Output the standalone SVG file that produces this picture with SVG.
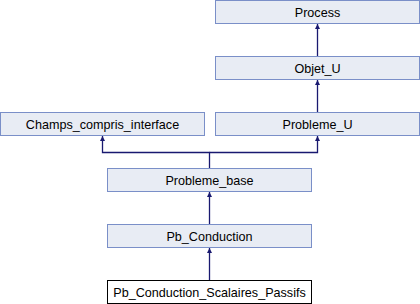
<svg xmlns="http://www.w3.org/2000/svg" width="420" height="304" viewBox="0 0 420 304">
  <style>
    .box rect { fill: #e8ecf4; stroke: #7a8fc8; stroke-width: 1; }
    .box.leaf rect { fill: #ffffff; stroke: #000000; }
    text { font-family: "Liberation Sans", Arial, sans-serif; font-size: 12.6px; fill: #000000; text-anchor: middle; }
    .edge { fill: none; stroke: #191970; stroke-width: 1.3; }
  </style>
  <defs>
    <marker id="arrow" viewBox="0 0 10 10" refX="10" refY="5" markerWidth="5" markerHeight="6" orient="auto" markerUnits="userSpaceOnUse">
      <path d="M0,0 L10,5 L0,10 Z" fill="#191970" stroke="none"/>
    </marker>
  </defs>

  <rect width="420" height="304" fill="#ffffff"/>

  <!-- inheritance edges -->
  <g id="edges">
    <path class="edge" d="M317.5,56.5 V24" marker-end="url(#arrow)"/>
    <path class="edge" d="M317.5,112.5 V80" marker-end="url(#arrow)"/>
    <path class="edge" d="M209.5,168.5 V152.5 H102.5 V136" marker-end="url(#arrow)"/>
    <path class="edge" d="M209.5,152.5 H317.5 V136" marker-end="url(#arrow)"/>
    <path class="edge" d="M209.5,224.5 V192" marker-end="url(#arrow)"/>
    <path class="edge" d="M209.5,280.5 V248" marker-end="url(#arrow)"/>
  </g>

  <g id="process" class="box">
    <rect x="215.5" y="0.5" width="204" height="23"/>
    <text x="317.5" y="16.5">Process</text>
  </g>
  <g id="objet_u" class="box">
    <rect x="215.5" y="56.5" width="204" height="23"/>
    <text x="317.5" y="72.5">Objet_U</text>
  </g>
  <g id="champs_compris_interface" class="box">
    <rect x="0.5" y="112.5" width="204" height="23"/>
    <text x="102.5" y="128.5">Champs_compris_interface</text>
  </g>
  <g id="probleme_u" class="box">
    <rect x="215.5" y="112.5" width="204" height="23"/>
    <text x="317.5" y="128.5">Probleme_U</text>
  </g>
  <g id="probleme_base" class="box">
    <rect x="107.5" y="168.5" width="204" height="23"/>
    <text x="209.5" y="184.5">Probleme_base</text>
  </g>
  <g id="pb_conduction" class="box">
    <rect x="107.5" y="224.5" width="204" height="23"/>
    <text x="209.5" y="240.5">Pb_Conduction</text>
  </g>
  <g id="pb_conduction_scalaires_passifs" class="box leaf">
    <rect x="107.5" y="280.5" width="204" height="23"/>
    <text x="209.5" y="296.5">Pb_Conduction_Scalaires_Passifs</text>
  </g>
</svg>
